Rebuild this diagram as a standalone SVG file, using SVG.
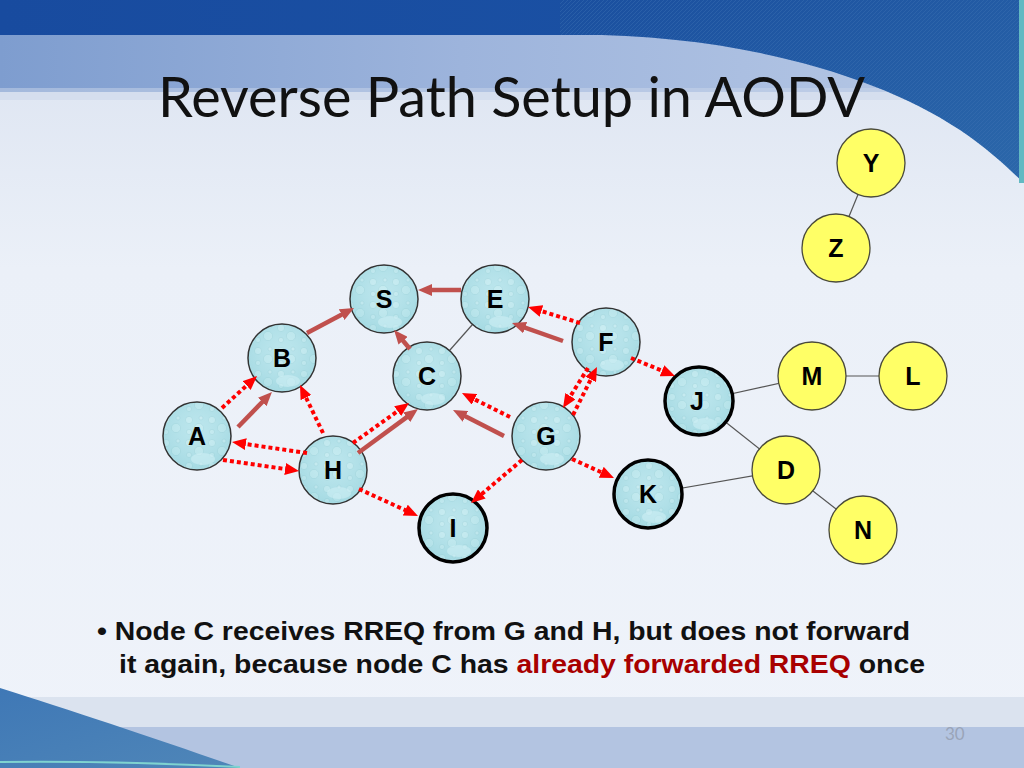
<svg xmlns="http://www.w3.org/2000/svg" width="1024" height="768" viewBox="0 0 1024 768">
<defs>
  <linearGradient id="bgMain" x1="0" y1="0" x2="0" y2="1">
    <stop offset="0" stop-color="#dae2f0"/>
    <stop offset="0.35" stop-color="#ebf0f8"/>
    <stop offset="1" stop-color="#eff3fa"/>
  </linearGradient>
  <linearGradient id="band" x1="0" y1="0" x2="1" y2="0">
    <stop offset="0" stop-color="#7e9dcf"/>
    <stop offset="0.45" stop-color="#9db4dc"/>
    <stop offset="1" stop-color="#b9cae6"/>
  </linearGradient>
  <linearGradient id="topBand" x1="0" y1="0" x2="1" y2="0">
    <stop offset="0" stop-color="#184b9f"/>
    <stop offset="0.6" stop-color="#1a50a3"/>
    <stop offset="1" stop-color="#2a63a8"/>
  </linearGradient>
  <linearGradient id="swoosh" x1="0" y1="0" x2="1" y2="1">
    <stop offset="0" stop-color="#1a4f9f"/>
    <stop offset="1" stop-color="#2c68aa"/>
  </linearGradient>
  <linearGradient id="botSwoosh" x1="0" y1="0" x2="1" y2="1">
    <stop offset="0" stop-color="#3f78b6"/>
    <stop offset="1" stop-color="#4f86b8"/>
  </linearGradient>
  <pattern id="hatch" width="4" height="4" patternUnits="userSpaceOnUse">
    <path d="M0,4 L4,0" stroke="#3d74b4" stroke-width="0.8" opacity="0.5"/>
  </pattern>
  <pattern id="bub" width="23" height="23" patternUnits="userSpaceOnUse">
    <rect width="23" height="23" fill="#b2e2ea"/>
    <circle cx="5" cy="6" r="3.6" fill="#c4ebf1" stroke="#9dd2db" stroke-width="0.5"/>
    <circle cx="15" cy="14" r="4.6" fill="#bfe9ef" stroke="#9dd2db" stroke-width="0.5"/>
    <circle cx="17" cy="4" r="2" fill="#c4ebf1" stroke="#9dd2db" stroke-width="0.5"/>
    <circle cx="5" cy="18" r="2.6" fill="#c2eaf0" stroke="#9dd2db" stroke-width="0.5"/>
  </pattern>
  <radialGradient id="shade" cx="0.5" cy="0.4" r="0.6">
    <stop offset="0" stop-color="#ffffff" stop-opacity="0.12"/>
    <stop offset="1" stop-color="#78bfca" stop-opacity="0.22"/>
  </radialGradient>
  <marker id="ahSolid" viewBox="0 0 14 12" markerWidth="14" markerHeight="12" refX="4" refY="6" orient="auto" markerUnits="userSpaceOnUse">
    <path d="M0,0 L14,6 L0,12 z" fill="#c0504d"/>
  </marker>
  <marker id="ahDot" viewBox="0 0 14 12" markerWidth="14" markerHeight="12" refX="4" refY="6" orient="auto" markerUnits="userSpaceOnUse">
    <path d="M0,0 L14,6 L0,12 z" fill="#ff0000"/>
  </marker>
  <style>
    .blue circle.b { fill: url(#bub); stroke: #333; stroke-width: 1.5; }
    .blue circle.s { fill: url(#shade); stroke: none; }
    .blue ellipse.drop { fill: #d2f1f5; opacity: 0.55; }
    .thick circle.b { stroke: #000; stroke-width: 3.5; }
    .yel circle { fill: #ffff66; stroke: #4a4a3a; stroke-width: 1.3; }
    .lbl { font-family: "Liberation Sans", Arial, sans-serif; font-weight: bold; font-size: 25px; fill: #000; text-anchor: middle; }
    .thin line { stroke: #555; stroke-width: 1.2; }
    .solid { stroke: #c0504d; stroke-width: 4.5; fill: none; marker-end: url(#ahSolid); }
    .dot { stroke: #ff0000; stroke-width: 4; fill: none; stroke-dasharray: 4 3; marker-end: url(#ahDot); }
    .body { font-family: "Liberation Sans", Arial, sans-serif; font-weight: bold; font-size: 25px; fill: #111; }
  </style>
</defs>

<!-- background -->
<g id="background">
  <rect x="0" y="0" width="1024" height="768" fill="url(#bgMain)"/>
  <rect x="0" y="35" width="1024" height="57" fill="url(#band)"/>
  <rect x="0" y="88" width="1024" height="12" fill="#c9d5ea" opacity="0.5"/>
  <rect x="0" y="0" width="1024" height="35" fill="url(#topBand)"/>
  <path d="M560,35 C720,32 870,70 960,130 C990,150 1010,170 1024,183 L1024,0 L560,0 z" fill="url(#swoosh)"/>
  <path d="M560,35 C720,32 870,70 960,130 C990,150 1010,170 1024,183 L1024,0 L560,0 z" fill="url(#hatch)"/>
  <rect x="1019" y="0" width="5" height="183" fill="#62b9c2"/>
  <rect x="0" y="697" width="1024" height="30" fill="#dbe3ef"/>
  <rect x="0" y="727" width="1024" height="41" fill="#b3c4e1"/>
  <path d="M0,688 C70,710 160,740 240,768 L0,768 z" fill="url(#botSwoosh)"/>
  <path d="M0,762 C80,761 160,763 240,767" stroke="#7fd3d0" stroke-width="2" fill="none"/>
</g>

<!-- title -->
<text x="158" y="117" font-family="Lato, 'Open Sans', sans-serif" font-size="57" fill="#111" textLength="707" lengthAdjust="spacingAndGlyphs">Reverse Path Setup in AODV</text>

<!-- thin links -->
<g id="links" class="thin">
  <line x1="871" y1="163" x2="836" y2="248"/>
  <line x1="427" y1="376" x2="495" y2="299"/>
  <line x1="699" y1="401" x2="812" y2="376"/>
  <line x1="812" y1="376" x2="913" y2="376"/>
  <line x1="699" y1="401" x2="786" y2="470"/>
  <line x1="648" y1="494" x2="786" y2="470"/>
  <line x1="786" y1="470" x2="863" y2="530"/>
</g>

<!-- nodes -->
<g id="node-S" class="blue"><circle class="b" cx="384" cy="299" r="34"/><circle class="s" cx="384" cy="299" r="33"/><ellipse class="drop" cx="390" cy="322" rx="12" ry="6"/><text class="lbl" x="384" y="308">S</text></g>
<g id="node-E" class="blue"><circle class="b" cx="495" cy="299" r="34"/><circle class="s" cx="495" cy="299" r="33"/><ellipse class="drop" cx="501" cy="322" rx="12" ry="6"/><text class="lbl" x="495" y="308">E</text></g>
<g id="node-B" class="blue"><circle class="b" cx="282" cy="358" r="34"/><circle class="s" cx="282" cy="358" r="33"/><ellipse class="drop" cx="288" cy="381" rx="12" ry="6"/><text class="lbl" x="282" y="367">B</text></g>
<g id="node-C" class="blue"><circle class="b" cx="427" cy="376" r="34"/><circle class="s" cx="427" cy="376" r="33"/><ellipse class="drop" cx="433" cy="399" rx="12" ry="6"/><text class="lbl" x="427" y="385">C</text></g>
<g id="node-A" class="blue"><circle class="b" cx="197" cy="436" r="34"/><circle class="s" cx="197" cy="436" r="33"/><ellipse class="drop" cx="203" cy="459" rx="12" ry="6"/><text class="lbl" x="197" y="445">A</text></g>
<g id="node-H" class="blue"><circle class="b" cx="333" cy="470" r="34"/><circle class="s" cx="333" cy="470" r="33"/><ellipse class="drop" cx="339" cy="493" rx="12" ry="6"/><text class="lbl" x="333" y="479">H</text></g>
<g id="node-F" class="blue"><circle class="b" cx="606" cy="342" r="34"/><circle class="s" cx="606" cy="342" r="33"/><ellipse class="drop" cx="612" cy="365" rx="12" ry="6"/><text class="lbl" x="606" y="351">F</text></g>
<g id="node-G" class="blue"><circle class="b" cx="546" cy="436" r="34"/><circle class="s" cx="546" cy="436" r="33"/><ellipse class="drop" cx="552" cy="459" rx="12" ry="6"/><text class="lbl" x="546" y="445">G</text></g>
<g id="node-J" class="blue thick"><circle class="b" cx="699" cy="401" r="34"/><circle class="s" cx="699" cy="401" r="32"/><ellipse class="drop" cx="705" cy="424" rx="12" ry="6"/><text class="lbl" x="697" y="410">J</text></g>
<g id="node-K" class="blue thick"><circle class="b" cx="648" cy="494" r="34"/><circle class="s" cx="648" cy="494" r="32"/><ellipse class="drop" cx="654" cy="517" rx="12" ry="6"/><text class="lbl" x="648" y="503">K</text></g>
<g id="node-I" class="blue thick"><circle class="b" cx="453" cy="528" r="34"/><circle class="s" cx="453" cy="528" r="32"/><ellipse class="drop" cx="459" cy="551" rx="12" ry="6"/><text class="lbl" x="453" y="537">I</text></g>
<g id="node-Y" class="yel"><circle cx="871" cy="163" r="34"/><text class="lbl" x="871" y="172">Y</text></g>
<g id="node-Z" class="yel"><circle cx="836" cy="248" r="34"/><text class="lbl" x="836" y="257">Z</text></g>
<g id="node-M" class="yel"><circle cx="812" cy="376" r="34"/><text class="lbl" x="812" y="385">M</text></g>
<g id="node-L" class="yel"><circle cx="913" cy="376" r="34"/><text class="lbl" x="913" y="385">L</text></g>
<g id="node-D" class="yel"><circle cx="786" cy="470" r="34"/><text class="lbl" x="786" y="479">D</text></g>
<g id="node-N" class="yel"><circle cx="863" cy="530" r="34"/><text class="lbl" x="863" y="539">N</text></g>

<!-- arrows -->
<g id="connectors">
  <line class="solid" x1="238" y1="427" x2="265" y2="399.2"/>
  <line class="solid" x1="307" y1="333" x2="345.2" y2="312.7"/>
  <line class="solid" x1="410" y1="349" x2="400.5" y2="337.7"/>
  <line class="solid" x1="461" y1="290" x2="428" y2="290"/>
  <line class="solid" x1="563" y1="341" x2="521.4" y2="326.3"/>
  <line class="solid" x1="358" y1="453" x2="409.9" y2="414.9"/>
  <line class="solid" x1="504" y1="436" x2="461.9" y2="414.5"/>

  <line class="dot" x1="222" y1="408" x2="249.6" y2="382.8"/>
  <line class="dot" x1="323" y1="433" x2="304.3" y2="394"/>
  <line class="dot" x1="307" y1="453" x2="241.9" y2="443.5"/>
  <line class="dot" x1="223" y1="460" x2="289.1" y2="469.6"/>
  <line class="dot" x1="353" y1="443" x2="400.9" y2="408.8"/>
  <line class="dot" x1="359" y1="489" x2="408.9" y2="511.8"/>
  <line class="dot" x1="510" y1="417" x2="470.9" y2="397.5"/>
  <line class="dot" x1="580" y1="323" x2="537.6" y2="309.9"/>
  <line class="dot" x1="588" y1="368" x2="568.3" y2="399.5"/>
  <line class="dot" x1="573" y1="415" x2="592.5" y2="375.9"/>
  <line class="dot" x1="631" y1="358" x2="665.7" y2="372.2"/>
  <line class="dot" x1="522" y1="460" x2="478.7" y2="496.6"/>
  <line class="dot" x1="572" y1="459" x2="604.9" y2="473.9"/>
</g>

<!-- body text -->
<text class="body" x="97" y="640" textLength="813" lengthAdjust="spacingAndGlyphs">• Node C receives RREQ from G and H, but does not forward</text>
<text class="body" x="119" y="673" textLength="806" lengthAdjust="spacingAndGlyphs">it again, because node C has <tspan fill="#a80000">already forwarded RREQ</tspan> once</text>

<text x="945" y="740" font-family="Lato, 'Open Sans', sans-serif" font-size="17" fill="#9aa4b8">30</text>
</svg>
